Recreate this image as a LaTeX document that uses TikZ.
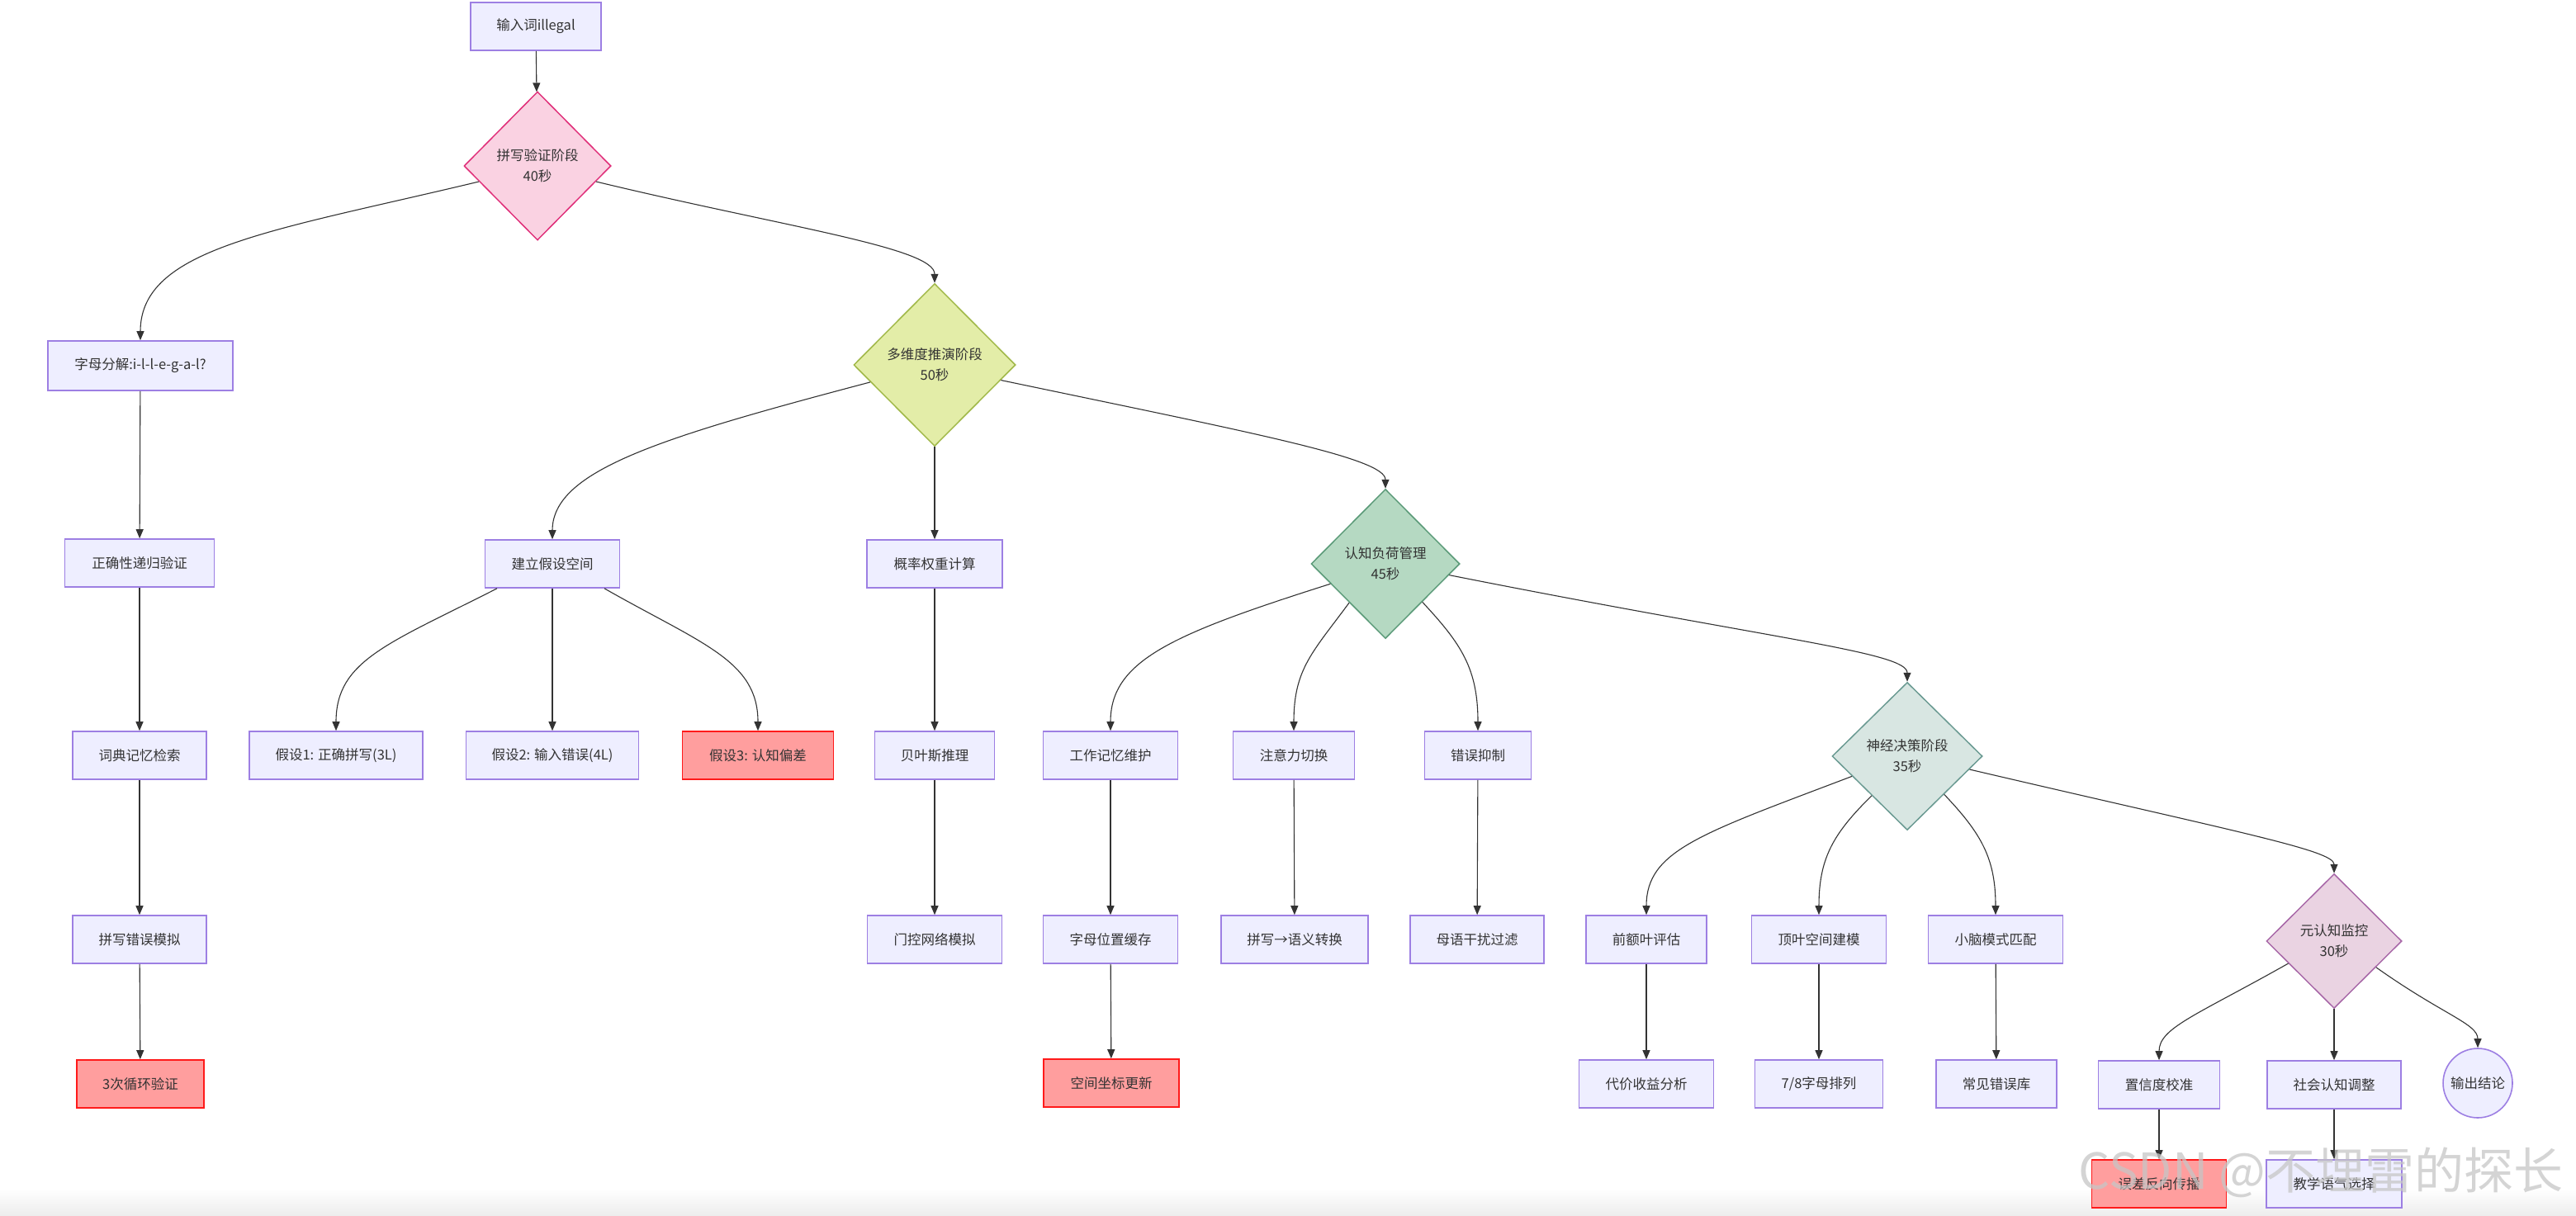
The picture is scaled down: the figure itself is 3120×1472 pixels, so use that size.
\documentclass[tikz,border=0pt]{standalone}
\usepackage{fontspec}
\newfontfamily\cjk{Noto Sans CJK SC}
\usetikzlibrary{shapes.geometric,arrows.meta,calc}
\definecolor{boxfill}{HTML}{EEEEFF}
\definecolor{boxdraw}{HTML}{9D7FE3}
\definecolor{redfill}{HTML}{FF9E9E}
\definecolor{reddraw}{HTML}{FF1A1A}
\definecolor{dafill}{HTML}{FAD2E2}
\definecolor{dadraw}{HTML}{E0307A}
\definecolor{dbfill}{HTML}{E3EDA8}
\definecolor{dbdraw}{HTML}{A0B848}
\definecolor{dcfill}{HTML}{B5D9C2}
\definecolor{dcdraw}{HTML}{5A9A78}
\definecolor{ddfill}{HTML}{D8E6E2}
\definecolor{dddraw}{HTML}{6A9A92}
\definecolor{defill}{HTML}{EAD3E2}
\definecolor{dedraw}{HTML}{A868A8}
\definecolor{linec}{HTML}{333333}
\definecolor{textc}{HTML}{333333}
\tikzset{
  basebox/.style={draw=boxdraw, fill=boxfill, line width=1.6pt, minimum height=58pt,
    inner sep=0pt, text=textc, font=\cjk\fontsize{16.5}{20}\selectfont},
  redbox/.style={basebox, draw=reddraw, fill=redfill},
  dia/.style={diamond, line width=1.5pt, inner sep=0pt, align=center, text=textc,
    font=\cjk\fontsize{16.5}{25}\selectfont},
  circ/.style={circle, draw=boxdraw, fill=boxfill, line width=1.6pt, minimum size=84pt,
    inner sep=0pt, text=textc, font=\cjk\fontsize{16.5}{20}\selectfont},
  conn/.style={draw=linec, line width=1.1pt, -{Triangle[length=11pt,width=9pt]}},
}
\begin{document}
\begin{tikzpicture}[x=1pt,y=-1pt]
\useasboundingbox (0,0) rectangle (3120,1472);
\fill[white] (0,0) rectangle (3120,1472);
\shade[top color=white, bottom color=gray!14] (0,1440) rectangle (3120,1472);

% nodes
\node[basebox, minimum width=158pt] (in) at (649,32) {输入词illegal};
\node[dia, draw=dadraw, fill=dafill, minimum width=178pt, minimum height=180pt] (d1) at (651,201) {拼写验证阶段\\40秒};
\node[basebox, minimum width=224pt, minimum height=60pt] (n1) at (170,443) {字母分解:i-l-l-e-g-a-l?};
\node[dia, draw=dbdraw, fill=dbfill, minimum width=196pt, minimum height=197pt] (d2) at (1132,442) {多维度推演阶段\\50秒};
\node[basebox, minimum width=181pt] (n2) at (169,682) {正确性递归验证};
\node[basebox, minimum width=162pt] (n3) at (169,915) {词典记忆检索};
\node[basebox, minimum width=162pt] (n4) at (169,1138) {拼写错误模拟};
\node[redbox, minimum width=154pt] (n5) at (170,1313) {3次循环验证};

\node[basebox, minimum width=163pt] (h1) at (669,683) {建立假设空间};
\node[basebox, minimum width=210pt] (a1) at (407,915) {假设1: 正确拼写(3L)};
\node[basebox, minimum width=209pt] (a2) at (669,915) {假设2: 输入错误(4L)};
\node[redbox, minimum width=183pt] (a3) at (918,915) {假设3: 认知偏差};

\node[basebox, minimum width=164pt] (p1) at (1132,683) {概率权重计算};
\node[basebox, minimum width=145pt] (p2) at (1132,915) {贝叶斯推理};
\node[basebox, minimum width=163pt] (p3) at (1132,1138) {门控网络模拟};

\node[dia, draw=dcdraw, fill=dcfill, minimum width=180pt, minimum height=181pt] (d3) at (1678,683) {认知负荷管理\\45秒};
\node[basebox, minimum width=163pt] (w1) at (1345,915) {工作记忆维护};
\node[basebox, minimum width=163pt] (w2) at (1345,1138) {字母位置缓存};
\node[redbox, minimum width=164pt] (w3) at (1346,1312) {空间坐标更新};
\node[basebox, minimum width=147pt] (at) at (1567,915) {注意力切换};
\node[basebox, minimum width=178pt] (at2) at (1568,1138) {拼写→语义转换};
\node[basebox, minimum width=129pt] (er) at (1790,915) {错误抑制};
\node[basebox, minimum width=162pt] (er2) at (1789,1138) {母语干扰过滤};

\node[dia, draw=dddraw, fill=ddfill, minimum width=182pt, minimum height=179pt] (d4) at (2310,916) {神经决策阶段\\35秒};
\node[basebox, minimum width=146pt] (pf) at (1994,1138) {前额叶评估};
\node[basebox, minimum width=163pt] (pf2) at (1994,1313) {代价收益分析};
\node[basebox, minimum width=163pt] (pl) at (2203,1138) {顶叶空间建模};
\node[basebox, minimum width=155pt] (pl2) at (2203,1313) {7/8字母排列};
\node[basebox, minimum width=163pt] (cb) at (2417,1138) {小脑模式匹配};
\node[basebox, minimum width=146pt] (cb2) at (2418,1313) {常见错误库};

\node[dia, draw=dedraw, fill=defill, minimum width=164pt, minimum height=163pt] (d5) at (2827,1140) {元认知监控\\30秒};
\node[basebox, minimum width=147pt] (cc) at (2615,1314) {置信度校准};
\node[redbox, minimum width=163pt] (cc2) at (2615,1434) {误差反向传播};
\node[basebox, minimum width=162pt] (sc) at (2827,1314) {社会认知调整};
\node[basebox, minimum width=164pt] (sc2) at (2827,1434) {教学语气选择};
\node[circ] (out) at (3001,1312) {输出结论};

% connectors
\draw[conn] (in) -- (d1);
\draw[conn] (d1.195) .. controls (330,280) and (170,300) .. (n1.north);
\draw[conn] (d1.345) .. controls (950,275) and (1132,300) .. (d2.north);
\draw[conn] (n1) -- (n2);
\draw[conn] (n2) -- (n3);
\draw[conn] (n3) -- (n4);
\draw[conn] (n4) -- (n5);

\draw[conn] (d2.195.6) .. controls (800,530) and (669,570) .. (h1.north);
\draw[conn] (d2) -- (p1);
\draw[conn] (d2.347) .. controls (1520,525) and (1678,555) .. (d3.north);

\draw[conn] ($(h1.south)+(-67,0)$) .. controls (470,780) and (407,800) .. (a1.north);
\draw[conn] (h1) -- (a2);
\draw[conn] ($(h1.south)+(63,0)$) .. controls (850,780) and (918,800) .. (a3.north);

\draw[conn] (p1) -- (p2);
\draw[conn] (p2) -- (p3);

\draw[conn] (d3.200.5) .. controls (1420,768) and (1345,800) .. (w1.north);
\draw[conn] (d3.227) .. controls (1590,790) and (1567,810) .. (at.north);
\draw[conn] (d3.314) .. controls (1770,780) and (1790,810) .. (er.north);
\draw[conn] (d3.350) .. controls (2150,775) and (2310,790) .. (d4.north);
\draw[conn] (w1) -- (w2);
\draw[conn] (w2) -- (w3);
\draw[conn] (at) -- (at2);
\draw[conn] (er) -- (er2);

\draw[conn] (d4.200.5) .. controls (2060,1010) and (1994,1030) .. (pf.north);
\draw[conn] (d4.228) .. controls (2220,1010) and (2203,1040) .. (pl.north);
\draw[conn] (d4.314) .. controls (2400,1010) and (2417,1040) .. (cb.north);
\draw[conn] (d4.348) .. controls (2710,1008) and (2827,1030) .. (d5.north);
\draw[conn] (pf) -- (pf2);
\draw[conn] (pl) -- (pl2);
\draw[conn] (cb) -- (cb2);

\draw[conn] (d5.206.6) .. controls (2660,1230) and (2615,1245) .. (cc.north);
\draw[conn] (d5) -- (sc);
\draw[conn] (d5.328) .. controls (2960,1230) and (3001,1240) .. (out.north);
\draw[conn] (cc) -- (cc2);
\draw[conn] (sc) -- (sc2);

% watermark
\node[text=gray!45, opacity=0.75, font=\cjk\fontsize{60}{60}\selectfont, inner sep=0pt] (wm) at (2811,1420) {CSDN @不埋雷的探长};
\end{tikzpicture}
\end{document}
